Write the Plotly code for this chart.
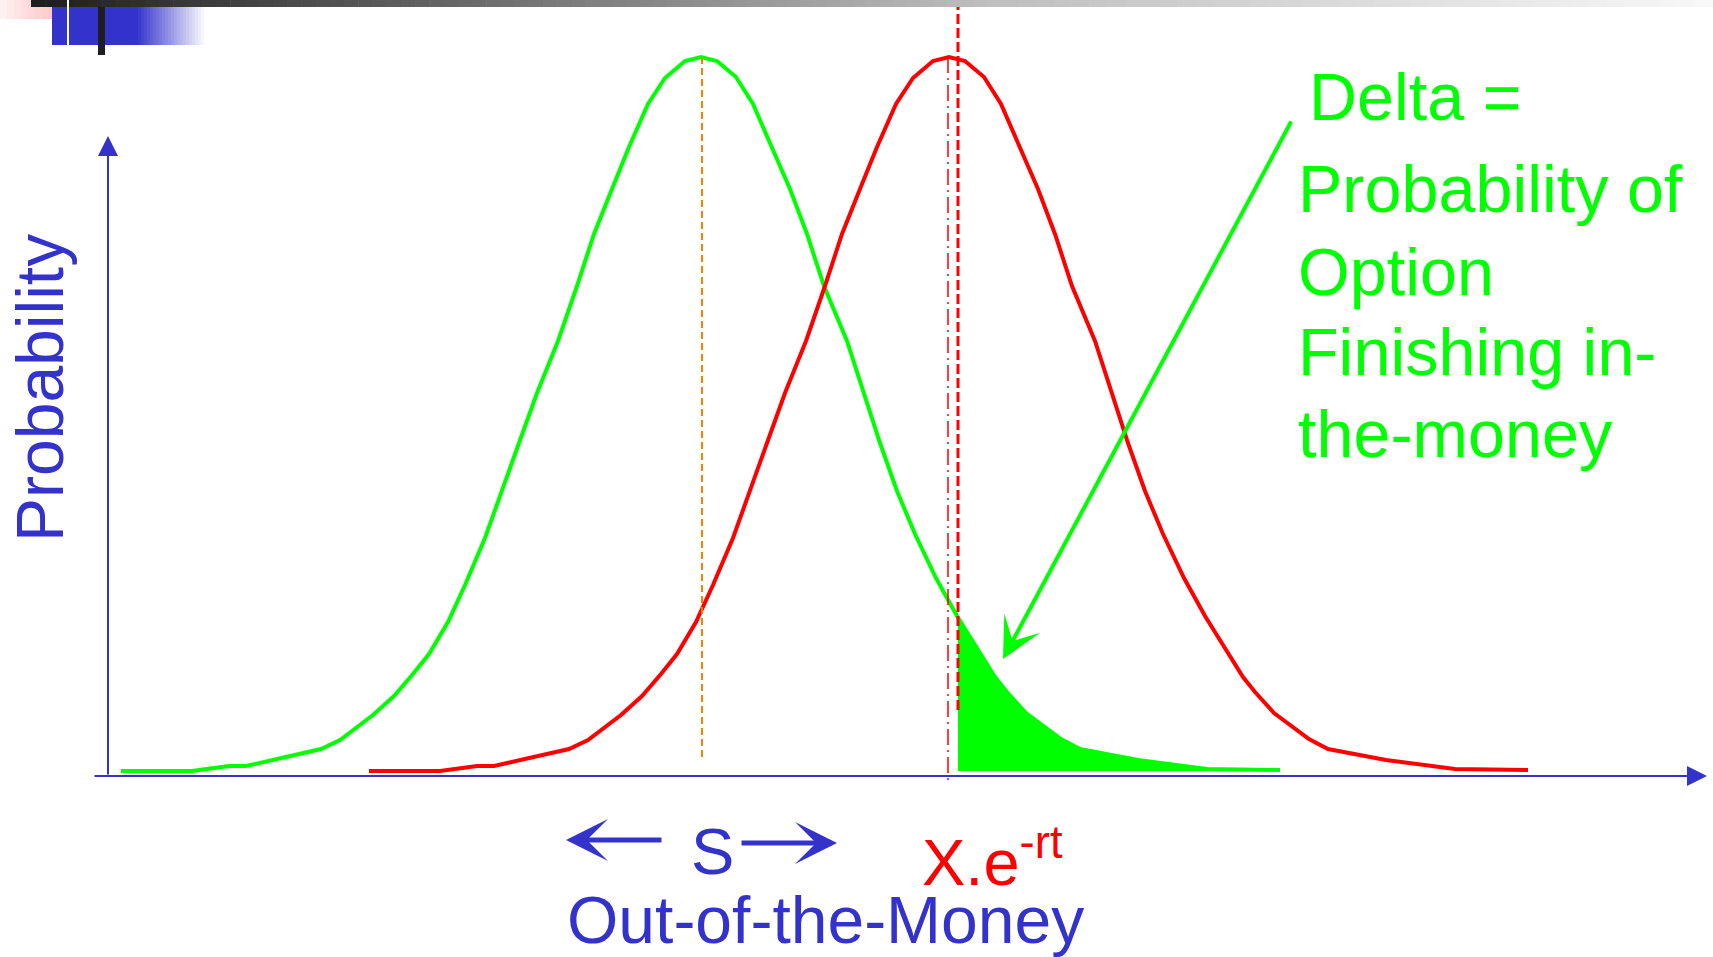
import numpy as np
import plotly.graph_objects as go

W, H = 1713, 957

# distribution profile: offset from the mean, height above the axis
offsets = [-580, -509, -472, -455, -380, -361, -328, -307, -288, -272, -253, -236,
           -216, -201, -182, -164, -143, -124, -107, -89, -72, -53, -36, -16, 0,
           16, 35, 52, 71, 89, 106, 123, 146, 162, 179, 196, 214, 235, 256, 294,
           306, 325, 360, 379, 437, 506, 579]
density = [5, 5, 10, 10, 27, 36, 61, 80, 102, 122, 154, 191,
           238, 281, 333, 383, 435, 490, 542, 587, 629, 672, 698, 715, 719,
           715, 699, 672, 629, 587, 542, 490, 435, 385, 333, 285, 242, 198, 160, 99,
           84, 63, 37, 27, 16, 7, 6]

s_mean = 701       # centre of the stock price distribution (green)
x_mean = 949       # centre of the strike distribution (red)
strike = 958       # X.e^-rt line, start of the shaded area

BLUE = "#3333cc"
GREEN = "#00ff00"
RED = "#ff0000"
FONT = "Liberation Sans, Arial, sans-serif"

green_x = np.array(offsets) + s_mean
red_x = np.array(offsets) + x_mean
dens = np.array(density)

fig = go.Figure()

# shaded tail of the green curve beyond the strike
h_strike = np.interp(strike, green_x, dens)
tail = green_x > strike
fx = [strike] + list(green_x[tail]) + [green_x[tail][-1], strike]
fy = [h_strike] + list(dens[tail]) + [5, 5]
fig.add_trace(go.Scatter(x=fx, y=fy, fill="toself", fillcolor=GREEN, mode="none",
                         hoverinfo="skip"))

fig.add_trace(go.Scatter(x=green_x, y=dens, mode="lines",
                         line=dict(color=GREEN, width=4)))
fig.add_trace(go.Scatter(x=red_x, y=dens, mode="lines",
                         line=dict(color=RED, width=4)))

# guide lines
fig.add_shape(type="line", x0=s_mean + 1, x1=s_mean + 1, y0=719, y1=18,
              line=dict(color="#ff8000", width=2, dash="7px,4px"))
fig.add_shape(type="line", x0=strike, x1=strike, y0=776, y1=66,
              line=dict(color=RED, width=3, dash="10px,4px"))
fig.add_shape(type="line", x0=x_mean - 1, x1=x_mean - 1, y0=719, y1=-6,
              line=dict(color=RED, width=1.5, dash="16px,5px,2px,5px"))


def px(x, y):
    return x / W, 1 - y / H


# slide decoration, top-left
def grad_bar(x0, x1, y0, y1, c0, c1, steps):
    for i in range(steps):
        t = i / max(steps - 1, 1)
        c = [int(c0[k] + (c1[k] - c0[k]) * t) for k in range(3)]
        a = x0 + (x1 - x0) * i / steps
        b = x0 + (x1 - x0) * (i + 1) / steps + (0.6 if i < steps - 1 else 0)
        p0, p1 = px(a, y0), px(b, y1)
        fig.add_shape(type="rect", xref="paper", yref="paper",
                      x0=p0[0], x1=p1[0], y0=p1[1], y1=p0[1],
                      fillcolor="rgb(%d,%d,%d)" % tuple(c), line_width=0, layer="above")


grad_bar(0, 83, 0, 19, (255, 240, 240), (255, 178, 178), 12)
grad_bar(52, 135, 7, 45, (51, 51, 204), (51, 51, 204), 1)
grad_bar(135, 207, 7, 45, (51, 51, 204), (255, 255, 255), 24)
grad_bar(31, 600, 0, 7, (30, 30, 30), (128, 128, 128), 40)
grad_bar(600, 1000, 0, 7, (128, 128, 128), (192, 192, 192), 30)
grad_bar(1000, 1713, 0, 7, (192, 192, 192), (248, 248, 248), 40)
grad_bar(67, 69, 0, 45, (255, 255, 255), (255, 255, 255), 1)
grad_bar(98, 105, 7, 55, (30, 30, 30), (30, 30, 30), 1)

# axes with arrow heads
fig.add_annotation(x=1707, y=0, ax=93, ay=0, xref="x", yref="y", axref="x", ayref="y",
                   showarrow=True, arrowhead=2, arrowwidth=2, arrowsize=2,
                   arrowcolor=BLUE, text="")
fig.add_annotation(x=108, y=640, ax=108, ay=0, xref="x", yref="y", axref="x", ayref="y",
                   showarrow=True, arrowhead=2, arrowwidth=2, arrowsize=2,
                   arrowcolor=BLUE, text="")

# S arrows
fig.add_annotation(x=566, y=776 - 840, ax=663, ay=776 - 840, xref="x", yref="y",
                   axref="x", ayref="y", showarrow=True, arrowhead=3, arrowwidth=5,
                   arrowsize=1.4, arrowcolor=BLUE, text="")
fig.add_annotation(x=837, y=776 - 843, ax=740, ay=776 - 843, xref="x", yref="y",
                   axref="x", ayref="y", showarrow=True, arrowhead=3, arrowwidth=5,
                   arrowsize=1.4, arrowcolor=BLUE, text="")

# Delta arrow
fig.add_annotation(x=1003, y=776 - 659, ax=1292, ay=776 - 120, xref="x", yref="y",
                   axref="x", ayref="y", showarrow=True, arrowhead=3, arrowwidth=4,
                   arrowsize=1.7, arrowcolor=GREEN, text="")


def label(text, x, y, color, xanchor="left", angle=0, size=65):
    fig.add_annotation(x=x, y=776 - y, xref="x", yref="y", text=text, showarrow=False,
                       xanchor=xanchor, yanchor="middle", textangle=angle,
                       font=dict(family=FONT, size=size, color=color))


label("Delta =", 1307, 97, GREEN, size=66.5)
label("Probability of", 1296, 189, GREEN, size=66.5)
label("Option", 1296, 272, GREEN, size=66.5)
label("Finishing in-", 1296, 352, GREEN, size=66.5)
label("the-money", 1296, 434, GREEN, size=66.5)
label("S", 712, 851, BLUE, xanchor="center")
label("X.e<sup>-rt</sup>", 920, 858, RED)
label("Out-of-the-Money", 825, 920, BLUE, xanchor="center", size=66)
label("Probability", 40, 388, BLUE, xanchor="center", angle=-90, size=66)

fig.update_layout(
    width=W, height=H,
    margin=dict(l=0, r=0, t=0, b=0),
    paper_bgcolor="white", plot_bgcolor="white",
    showlegend=False,
    xaxis=dict(range=[0, W], visible=False, fixedrange=True),
    yaxis=dict(range=[776 - H, 776], visible=False, fixedrange=True),
)

fig.write_html("out.html", config={"displayModeBar": False},
               post_script="document.body.style.margin='0px';")
